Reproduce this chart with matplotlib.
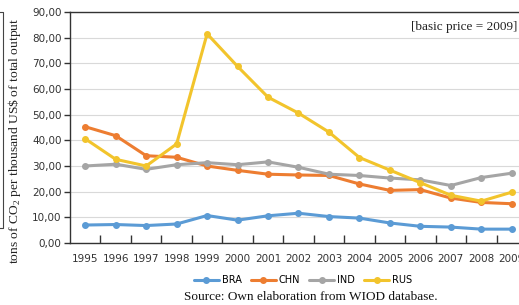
import matplotlib
matplotlib.use("Agg")
import matplotlib.pyplot as plt
from matplotlib.lines import Line2D
from matplotlib.ticker import FuncFormatter, FixedLocator

plt.rcParams["mathtext.fontset"] = "custom"
plt.rcParams["mathtext.rm"] = "Liberation Serif"

years = list(range(1995, 2010))
bra = [7.0, 7.2, 6.8, 7.4, 10.7, 8.9, 10.6, 11.6, 10.3, 9.7, 7.8, 6.5, 6.2, 5.4, 5.4]
chn = [45.3, 41.8, 34.0, 33.4, 30.0, 28.3, 26.8, 26.5, 26.3, 23.0, 20.5, 20.8, 17.5, 15.8, 15.3]
ind = [30.0, 30.7, 28.7, 30.5, 31.3, 30.5, 31.6, 29.5, 26.8, 26.3, 25.3, 24.6, 22.4, 25.5, 27.2]
rus = [40.6, 32.6, 30.0, 38.6, 81.5, 68.8, 56.8, 50.6, 43.2, 33.3, 28.4, 23.5, 18.6, 16.3, 19.8]
series = [("BRA", bra, "#5b9bd5"), ("CHN", chn, "#ed7d31"),
          ("IND", ind, "#a5a5a5"), ("RUS", rus, "#f2c42c")]

fig = plt.figure(figsize=(5.19, 3.05), dpi=100)
ax = fig.add_axes([70/519, 1 - 243/305, 457/519, 231/305])

for name, vals, col in series:
    ax.plot(years, vals, color=col, lw=2.2, marker="o", ms=4, label=name,
            solid_capstyle="round")

ax.set_xlim(1994.5, 2009.5)
ax.set_ylim(0, 90)
ax.set_yticks(range(0, 91, 10))
ax.yaxis.set_major_formatter(FuncFormatter(lambda v, p: f"{v:.2f}".replace(".", ",")))
ax.set_xticks(years)
ax.xaxis.set_minor_locator(FixedLocator([y + 0.5 for y in years[:-1]]))
ax.tick_params(axis="x", which="major", length=0, labelsize=7.5, colors="#333333", pad=8)
ax.tick_params(axis="x", which="minor", length=6, direction="in", width=1, color="#333333")
ax.tick_params(axis="y", length=4, direction="out", width=1, labelsize=7.5,
               colors="#333333", pad=2)
ax.grid(axis="y", color="#d9d9d9", lw=0.8)
ax.set_axisbelow(True)
ax.spines["right"].set_visible(False)
for s in ["left", "bottom", "top"]:
    ax.spines[s].set_color("#333333")
    ax.spines[s].set_linewidth(1)

ax.set_ylabel(r"tons of CO$_\mathrm{2}$ per thousand US\$ of total output", family="Liberation Serif",
              fontsize=9.7, color="#222222")
ax.yaxis.set_label_coords((23 - 70) / 457, (243 - 141) / 231)
fig.text(517/519, 1 - 27/305, "[basic price = 2009]",
         family="Liberation Serif", fontsize=9.5, ha="right", va="center", color="#222222")

fig.legend(loc="center", bbox_to_anchor=(303/519, 1 - 280/305), ncol=4, frameon=False,
           fontsize=7, handlelength=2.6, columnspacing=0.9, handletextpad=0.3)
fig.text(311/519, 1 - 297/305, "Source: Own elaboration from WIOD database.",
         family="Liberation Serif", fontsize=9.5, ha="center", va="center", color="#111111")

# edge of the neighbouring frame on the left
fig.add_artist(Line2D([0, 3/519, 3/519, 0], [1 - 12/305, 1 - 12/305, 1 - 228/305, 1 - 228/305],
                      color="#444444", lw=0.8, transform=fig.transFigure))

fig.savefig("out.png", dpi=100)
